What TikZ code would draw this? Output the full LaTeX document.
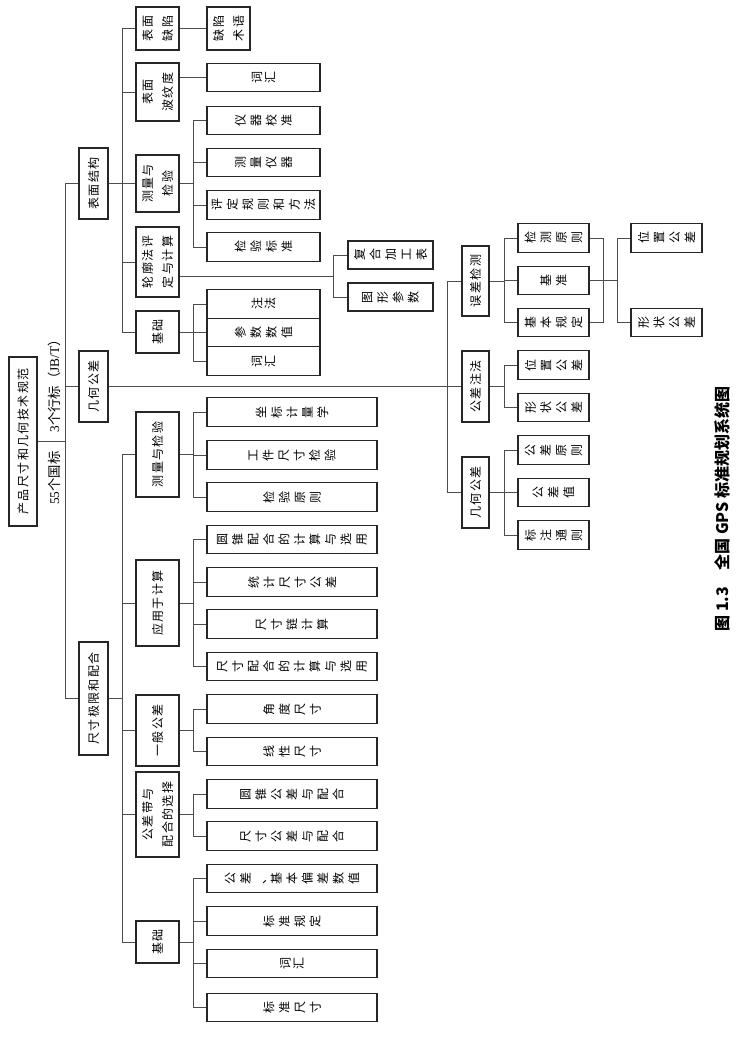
\documentclass[tikz,border=0pt]{standalone}
\usepackage{fontspec}
\setmainfont{Liberation Serif}
\newfontfamily\cjk{Noto Sans CJK SC}
\newfontfamily\cjknarrow[LetterSpace=12]{Noto Sans CJK SC}
\usetikzlibrary{calc}
\newcommand\pxu{0.75pt}
% one character per line: in a turned box this gives a row of turned glyphs
\makeatletter
\newcommand\vt[1]{\def\vt@out{}\def\vt@sep{}%
  \@tfor\vt@c:=#1\do{\edef\vt@out{\unexpanded\expandafter{\vt@out}%
    \unexpanded\expandafter{\vt@sep}\unexpanded\expandafter{\vt@c}}%
    \def\vt@sep{\\}}%
  \vt@out}
\makeatother
\tikzset{
  box/.style ={draw=black!85,line width=0.9pt,rotate=90,inner sep=0pt,align=center,
               font=\cjknarrow\fontsize{9}{15}\selectfont},
  bw/.style  ={minimum height=#1*\pxu},
  bl/.style  ={minimum width=#1*\pxu},
  hbox/.style={box,bw=29},
  mbox/.style={box,bw=43},
  vbox/.style={box,bl=28.5,font=\cjk\fontsize{9}{11.6}\selectfont},
  sbox/.style={vbox,bw=113},
  lbox/.style={vbox,bw=170},
  gbox/.style={vbox,bw=71},
  tight/.style={font=\cjk\fontsize{9}{9.8}\selectfont},
  link/.style={draw=black!70,line width=0.6pt},
  lbl/.style ={rotate=90,inner sep=0pt,font=\fontsize{10}{12}\selectfont},
  figcap/.style={rotate=90,inner sep=0pt,font=\cjk\bfseries\fontsize{12}{14}\selectfont},
}

\begin{document}
\begin{tikzpicture}[x=0.75pt,y=-0.75pt]
  \useasboundingbox (0,0) rectangle (742,1037);
  % fork lines
  \coordinate (t0) at (65,0);  \coordinate (t1) at (122,0);
  \coordinate (t2) at (193,0); \coordinate (t3) at (333,0);
  \coordinate (t4) at (447,0); \coordinate (t5) at (504,0);
  \coordinate (t6) at (603,0); \coordinate (t7) at (617,0);
  % root
  \node[box,bw=28,bl=169] (root) at (23,441.5) {产品尺寸和几何技术规范};
  \node[lbl] (hang) at (54,383) {3{\cjk 个行标（}JB/T{\cjk ）}};
  \node[lbl] (guo) at (54,478) {55{\cjk 个国标}};
  % first level
  \node[hbox,bl=71]  (bm) at (93.5,183.5) {表面结构};
  \node[hbox,bl=71]  (jh) at (93.5,386.5) {几何公差};
  \node[hbox,bl=113] (cc) at (93.5,698.5) {尺寸极限和配合};
  % surface texture
  \node[mbox,bl=43] (bq)  at (157.5,28.5) {表面\\缺陷};
  \node[mbox,bl=58] (bw)  at (157.5,92)   {表面\\波纹度};
  \node[mbox,bl=57] (cl1) at (157.5,183.5) {测量与\\检验};
  \node[mbox,bl=70] (lk)  at (157.5,262)  {轮廓法评\\定与计算};
  \node[mbox,bl=42] (jc1) at (157.5,332)  {基础};
  \node[mbox,bl=43] (qs)  at (228.5,28.5) {缺陷\\术语};
  \node[sbox,tight] (ch1) at (263.5,77.5)  {\vt{词汇}};
  \node[sbox] (yq)  at (263.5,120.5) {\vt{仪器校准}};
  \node[sbox] (cy)  at (263.5,162.5) {\vt{测量仪器}};
  \node[sbox] (pd)  at (263.5,205)   {\vt{评定规则和方法}};
  \node[sbox] (jb)  at (263.5,247)   {\vt{检验标准}};
  \node[sbox,tight] (zf)  at (263.5,304)   {\vt{注法}};
  \node[sbox] (cs)  at (263.5,332.5) {\vt{参数数值}};
  \node[sbox,tight] (ch2) at (263.5,361)   {\vt{词汇}};
  \node[vbox,bw=85,bl=28] (fh) at (390.5,255) {\vt{复合加工表}};
  \node[vbox,bw=85,bl=28] (tx) at (390.5,297) {\vt{图形参数}};
  % limits and fits
  \node[mbox,bl=85] (cl2) at (157.5,454.5) {测量与检验};
  \node[mbox,bl=86] (yy)  at (157.5,603)   {应用于计算};
  \node[mbox,bl=71] (yb)  at (157.5,730.5) {一般公差};
  \node[mbox,bl=85] (gd)  at (157.5,814.5) {公差带与\\配合的选择};
  \node[mbox,bl=42] (jc2) at (157.5,942)   {基础};
  \node[lbox] (zb)  at (292,412)    {\vt{坐标计量学}};
  \node[lbox] (gj)  at (292,455)    {\vt{工件尺寸检验}};
  \node[lbox] (jy)  at (292,497)    {\vt{检验原则}};
  \node[lbox] (yz)  at (292,539.5)  {\vt{圆锥配合的计算与选用}};
  \node[lbox] (tj)  at (292,582)    {\vt{统计尺寸公差}};
  \node[lbox] (cl)  at (292,624)    {\vt{尺寸链计算}};
  \node[lbox] (cp)  at (292,666.5)  {\vt{尺寸配合的计算与选用}};
  \node[lbox] (jd)  at (292,709)    {\vt{角度尺寸}};
  \node[lbox] (xx)  at (292,751.5)  {\vt{线性尺寸}};
  \node[lbox] (yg)  at (292,794)    {\vt{圆锥公差与配合}};
  \node[lbox] (cg)  at (292,836)    {\vt{尺寸公差与配合}};
  \node[lbox] (gc)  at (292,878.5)  {\vt{公差、基本偏差数值}};
  \node[lbox] (bg)  at (292,921)    {\vt{标准规定}};
  \node[lbox,tight] (ch3) at (292,963.5)  {\vt{词汇}};
  \node[lbox] (bc)  at (292,1007.5) {\vt{标准尺寸}};
  % geometrical tolerances
  \node[box,bw=27,bl=70] (wc)  at (475.5,281)   {误差检测};
  \node[box,bw=27,bl=71] (gz)  at (475.5,386.5) {公差注法};
  \node[box,bw=27,bl=71] (jh2) at (475.5,492.5) {几何公差};
  \node[gbox] (jz)  at (553.5,238)   {\vt{检测原则}};
  \node[gbox] (jzz) at (553.5,280.5) {\vt{基准}};
  \node[gbox] (jg)  at (553.5,322.5) {\vt{基本规定}};
  \node[gbox] (wz1) at (553.5,365)   {\vt{位置公差}};
  \node[gbox] (xz1) at (553.5,407.5) {\vt{形状公差}};
  \node[gbox] (gy)  at (553.5,450)   {\vt{公差原则}};
  \node[gbox] (gv)  at (553.5,492.5) {\vt{公差值}};
  \node[gbox] (bt)  at (553.5,535)   {\vt{标注通则}};
  \node[gbox] (wz2) at (666.5,238)   {\vt{位置公差}};
  \node[gbox] (xz2) at (666.5,322.5) {\vt{形状公差}};
  % connectors
  \foreach \p/\f/\c in {root/t0/bm,root/t0/jh,root/t0/cc,
      bm/t1/bq,bm/t1/bw,bm/t1/cl1,bm/t1/lk,bm/t1/jc1,
      bq/t2/qs,cl1/t2/yq,cl1/t2/cy,cl1/t2/pd,cl1/t2/jb,
      jc1/t2/zf,jc1/t2/cs,jc1/t2/ch2,
      cc/t1/cl2,cc/t1/yy,cc/t1/yb,cc/t1/gd,cc/t1/jc2,
      cl2/t2/zb,cl2/t2/gj,cl2/t2/jy,
      yy/t2/yz,yy/t2/tj,yy/t2/cl,yy/t2/cp,
      yb/t2/jd,yb/t2/xx,gd/t2/yg,gd/t2/cg,
      jc2/t2/gc,jc2/t2/bg,jc2/t2/ch3,jc2/t2/bc,
      jh/t4/wc,jh/t4/gz,jh/t4/jh2,
      wc/t5/jz,wc/t5/jzz,wc/t5/jg,gz/t5/wz1,gz/t5/xz1,
      jh2/t5/gy,jh2/t5/gv,jh2/t5/bt,jzz/t7/wz2,jzz/t7/xz2}
    \draw[link] (\p.south) -- (\p.south -| \f) |- (\c.north);
  \draw[link] (bw.south |- ch1) -- (ch1.north);
  \coordinate (m1) at ($(fh.north)!.5!(tx.north)$);
  \draw[link] (lk.south |- m1) -- (m1 -| t3);
  \foreach \c in {fh,tx}
    \draw[link] (m1 -| t3) |- (\c.north);
  \draw[link] (jz.south) -- (jz.south -| t6) -- (jg.south -| t6) -- (jg.south);
  % caption
  \node[figcap] (fig) at (722,509) {图 1.3\quad 全国 GPS 标准规划系统图};
\end{tikzpicture}
\end{document}
